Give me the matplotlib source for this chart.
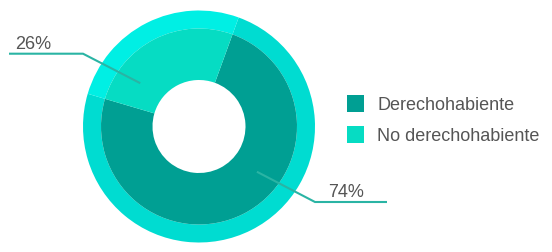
"""Donut chart: Derechohabiente vs No derechohabiente (two-ring pie)."""

import matplotlib
matplotlib.use("Agg")
import matplotlib.pyplot as plt
import numpy as np
from matplotlib.patches import Rectangle

# --------------------------------------------------------------------------- #
# Data
# --------------------------------------------------------------------------- #
labels = ["Derechohabiente", "No derechohabiente"]
values = [74, 26]
pct_labels = ["74%", "26%"]

# --------------------------------------------------------------------------- #
# Style / layout (pixel units, y measured from the top of the image)
# --------------------------------------------------------------------------- #
W, H = 552, 253
INNER_COLORS = ["#009f93", "#06dcc3"]
OUTER_COLORS = ["#00dcd1", "#00efe4"]
LEADER = "#2ab4a4"
TEXT = "#555555"
FONT = ["Liberation Sans", "DejaVu Sans"]

CX, CY = 199, 127.5
R_OUT, R_MID, R_HOLE = 116, 98, 46.5
START = 163.6  # degrees, where the first wedge begins (counter-clockwise)


def py(y):
    """image y (top-down) -> data y (bottom-up)"""
    return H - y


fig = plt.figure(figsize=(W / 100, H / 100), dpi=100)
ax = fig.add_axes([0, 0, 1, 1])

ax.pie(values, radius=R_OUT, center=(CX, py(CY)), colors=OUTER_COLORS,
       startangle=START, counterclock=True,
       wedgeprops=dict(width=R_OUT - R_MID, linewidth=0, antialiased=True))
ax.pie(values, radius=R_MID, center=(CX, py(CY)), colors=INNER_COLORS,
       startangle=START, counterclock=True,
       wedgeprops=dict(width=R_MID - R_HOLE, linewidth=0, antialiased=True))

# leader lines: anchor inside the ring -> elbow -> horizontal run
# (anchor angle, anchor radius, elbow dx/dy, end dx, text x, ha)
leaders = [
    (-38.0, 73.5, (116, 75.5), 188, 328),   # 74%
    (143.6, 73.0, (-116, -72.8), -190, 15),  # 26%
]
for txt, (ang, rad, (ex, ey), endx, tx) in zip(pct_labels, leaders):
    a = np.deg2rad(ang)
    x0, y0 = CX + rad * np.cos(a), CY - rad * np.sin(a)
    x1, y1 = CX + ex, CY + ey
    x2 = CX + endx
    ax.plot([x0, x1, x2], [py(y0), py(y1), py(y1)], color=LEADER, lw=1.5,
            solid_capstyle="butt", solid_joinstyle="miter", zorder=5)
    ax.text(tx, py(y1 - 6), txt, ha="left", va="baseline", fontsize=13,
            color=TEXT, family=FONT)

# legend (manual squares + labels)
for i, (lab, col) in enumerate(zip(labels, INNER_COLORS)):
    top = 96 + 31 * i
    ax.add_patch(Rectangle((347, py(top + 17)), 17, 17, facecolor=col,
                           edgecolor="none"))
    ax.text(377, py(top + 14), lab, ha="left", va="baseline", fontsize=13,
            color=TEXT, family=FONT)

ax.set_xlim(0, W)
ax.set_ylim(0, H)
ax.set_aspect("equal")
ax.axis("off")

fig.savefig("out.png", dpi=100, facecolor="white")
